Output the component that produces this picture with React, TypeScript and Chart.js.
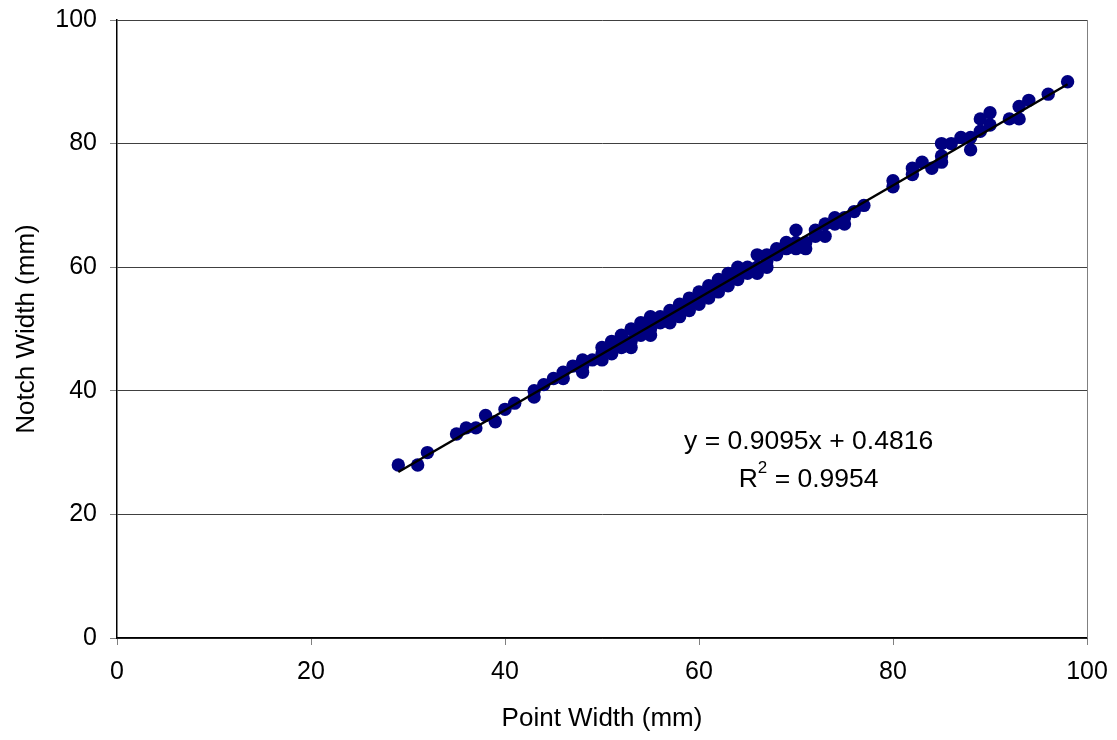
import React, { useEffect, useRef } from "react";
import { Chart, registerables } from "chart.js";

Chart.register(...registerables);

const pointWidth: number[] = [
  29, 31, 32, 35, 36, 37, 38, 39, 40, 41, 43, 43, 44, 45, 46, 46, 47, 48, 48, 48,
  49, 50, 50, 50, 51, 51, 51, 52, 52, 52, 53, 53, 53, 54, 54, 54, 55, 55, 55, 55,
  56, 56, 57, 57, 57, 58, 58, 58, 59, 59, 59, 60, 60, 60, 61, 61, 61, 62, 62, 62,
  63, 63, 63, 64, 64, 64, 65, 65, 66, 66, 66, 67, 67, 67, 68, 68, 69, 69, 70, 70,
  70, 71, 71, 72, 72, 73, 73, 74, 74, 75, 75, 76, 77, 80, 80, 82, 82, 83, 84, 85,
  85, 85, 86, 87, 88, 88, 89, 89, 90, 90, 92, 93, 93, 94, 96, 98,
];
const notchWidth: number[] = [
  28, 28, 30, 33, 34, 34, 36, 35, 37, 38, 40, 39, 41, 42, 42, 43, 44, 44, 45, 43,
  45, 46, 47, 45, 46, 47, 48, 48, 47, 49, 48, 47, 50, 50, 51, 49, 49, 50, 51, 52,
  51, 52, 51, 52, 53, 52, 53, 54, 53, 54, 55, 54, 55, 56, 55, 56, 57, 56, 57, 58,
  57, 58, 59, 58, 59, 60, 59, 60, 59, 60, 62, 60, 61, 62, 62, 63, 63, 64, 63, 64,
  66, 63, 64, 65, 66, 65, 67, 67, 68, 67, 68, 69, 70, 73, 74, 75, 76, 77, 76, 77,
  78, 80, 80, 81, 79, 81, 82, 84, 83, 85, 84, 84, 86, 87, 88, 90,
];

const trendX: number[] = [29, 98];
const trendY: number[] = [26.86, 89.61];

const xTitle = "Point Width (mm)";
const yTitle = "Notch Width (mm)";
const equationText = "y = 0.9095x + 0.4816";
const r2Value = " = 0.9954";
const labelPos = { x: 71.3, y1: 31.8, y2: 25.6 };

const FONT = "'Liberation Sans', Arial, sans-serif";

export default function App() {
  const ref = useRef<HTMLCanvasElement | null>(null);

  useEffect(() => {
    if (!ref.current) return;
    const annot = {
      id: "annot",
      afterDatasetsDraw(chart: any) {
        const ctx = chart.ctx;
        const xs = chart.scales.x;
        const ys = chart.scales.y;
        const ca = chart.chartArea;
        ctx.save();
        // right border
        ctx.strokeStyle = "#808080";
        ctx.lineWidth = 1;
        ctx.beginPath();
        ctx.moveTo(Math.round(ca.right) + 0.5, ca.top);
        ctx.lineTo(Math.round(ca.right) + 0.5, ca.bottom);
        ctx.stroke();
        // equation text
        ctx.fillStyle = "#000";
        ctx.font = `26.5px ${FONT}`;
        ctx.textAlign = "center";
        ctx.textBaseline = "middle";
        const cx = xs.getPixelForValue(labelPos.x);
        ctx.fillText(equationText, cx, ys.getPixelForValue(labelPos.y1));
        const y2 = ys.getPixelForValue(labelPos.y2);
        const wR = ctx.measureText("R").width;
        ctx.font = `17px ${FONT}`;
        const wS = ctx.measureText("2").width;
        ctx.font = `26.5px ${FONT}`;
        const wRest = ctx.measureText(r2Value).width;
        const total = wR + wS + wRest;
        let sx = cx - total / 2;
        ctx.textAlign = "left";
        ctx.fillText("R", sx, y2);
        sx += wR;
        ctx.font = `17px ${FONT}`;
        ctx.fillText("2", sx, y2 - 11);
        sx += wS;
        ctx.font = `26.5px ${FONT}`;
        ctx.fillText(r2Value, sx, y2);
        ctx.restore();
      },
    };

    const chart = new Chart(ref.current, {
      type: "scatter",
      data: {
        datasets: [
          {
            label: "trend",
            data: trendX.map((x, i) => ({ x, y: trendY[i] })),
            showLine: true,
            borderColor: "#000",
            borderWidth: 2.5,
            pointRadius: 0,
            order: 0,
          },
          {
            label: "data",
            data: pointWidth.map((x, i) => ({ x, y: notchWidth[i] })),
            backgroundColor: "#000080",
            borderColor: "#000080",
            pointRadius: 6.7,
            pointBorderWidth: 0,
            order: 1,
          },
        ],
      },
      options: {
        responsive: false,
        animation: false,
        layout: { padding: { top: 20, right: 30, left: 0, bottom: 0 } },
        plugins: {
          legend: { display: false },
          tooltip: { enabled: false },
        },
        scales: {
          x: {
            type: "linear",
            min: 0,
            max: 100,
            ticks: {
              stepSize: 20,
              color: "#000",
              font: { family: FONT, size: 25 },
              padding: 12,
              maxRotation: 0,
            },
            grid: {
              drawOnChartArea: false,
              drawTicks: true,
              tickLength: 7,
              color: "#808080",
            },
            border: { color: "#000", width: 1.5 },
            title: {
              display: true,
              text: xTitle,
              color: "#000",
              font: { family: FONT, size: 26 },
              padding: { top: 0, bottom: 6 },
            },
            afterFit(scale: any) {
              scale.height = 102;
              scale.paddingLeft = 0;
              scale.paddingRight = 0;
            },
          },
          y: {
            type: "linear",
            min: 0,
            max: 100,
            ticks: {
              stepSize: 20,
              color: "#000",
              font: { family: FONT, size: 25 },
              padding: 13,
            },
            grid: {
              color: "#404040",
              lineWidth: 1,
              tickLength: 7,
              tickColor: "#808080",
            },
            border: { color: "#000", width: 1.5 },
            title: {
              display: true,
              text: yTitle,
              color: "#000",
              font: { family: FONT, size: 26 },
              padding: { top: 11, bottom: 0 },
            },
            afterFit(scale: any) {
              scale.width = 117;
              scale.paddingTop = 0;
              scale.paddingBottom = 0;
            },
          },
        },
      },
      plugins: [annot],
    });
    return () => chart.destroy();
  }, []);

  return (
    <div style={{ position: "fixed", left: 0, top: 0, width: 1117, height: 740, background: "#fff" }}>
      <canvas ref={ref} width={1117} height={740} />
    </div>
  );
}
